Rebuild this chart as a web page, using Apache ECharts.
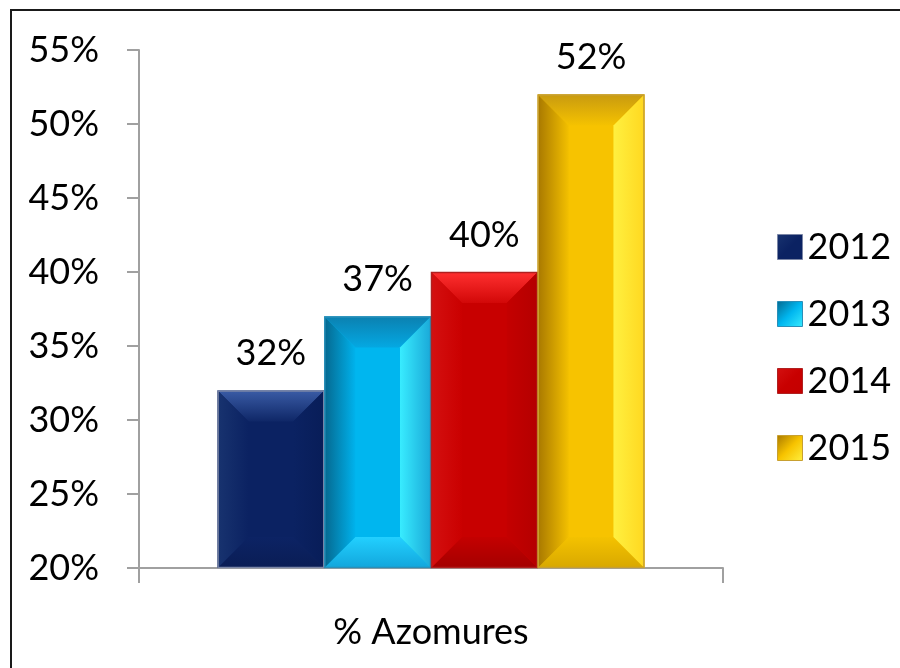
<!DOCTYPE html>
<html>
<head>
<meta charset="utf-8">
<script src="https://cdn.jsdelivr.net/npm/echarts@6/dist/echarts.min.js"></script>
<style>
html,body{margin:0;padding:0;background:#fff;}
#chart{width:900px;height:668px;}
</style>
</head>
<body>
<div id="chart"></div>
<script>
const categories = ['% Azomures'];
const years = ['2012', '2013', '2014', '2015'];
const values2012 = [32];
const values2013 = [37];
const values2014 = [40];
const values2015 = [52];
const seriesValues = [values2012, values2013, values2014, values2015];

const palettes = [
  {front:'#0b2262', topOuter:'#3a5ca6', topInner:'#0f2767', botOuter:'#0a1d55', botInner:'#0c2364', leftOuter:'#18336f', leftInner:'#0b2262', rightOuter:'#081d58', rightInner:'#0b2262', stroke:'#7b86a6'},
  {front:'#00b6ef', topOuter:'#0b80b0', topInner:'#04a8e2', botOuter:'#12a6dc', botInner:'#22d0ff', leftOuter:'#05688f', leftInner:'#00b2ec', rightOuter:'#1aa8d8', rightInner:'#38ecff', stroke:'#2a8fb8'},
  {front:'#c80000', topOuter:'#ff3030', topInner:'#d20808', botOuter:'#a40000', botInner:'#c40000', leftOuter:'#d41010', leftInner:'#ca0000', rightOuter:'#b40000', rightInner:'#c40000', stroke:'#b02020'},
  {front:'#f7c300', topOuter:'#c89a10', topInner:'#f5c200', botOuter:'#d8a800', botInner:'#f4c200', leftOuter:'#a87800', leftInner:'#f3c000', rightOuter:'#ffd820', rightInner:'#fff040', stroke:'#c8a030'}
];

function grad(x, y, x2, y2, c1, c2) {
  return {type:'linear', x:x, y:y, x2:x2, y2:y2, global:true,
    colorStops:[{offset:0, color:c1}, {offset:1, color:c2}]};
}

const FONT = 'Lato, "Open Sans", sans-serif';

function renderBar(params, api) {
  const si = params.seriesIndex;
  const p = palettes[si];
  const v = api.value(1);
  const c = api.coord([api.value(0), v]);
  const base = api.coord([api.value(0), 20]);
  const band = api.size([1, 0])[0];
  const gw = band * 0.731;
  const bw = gw / 4;
  const x0 = c[0] - gw / 2 + si * bw;
  const x1 = x0 + bw;
  const y0 = c[1];
  const y1 = base[1];
  const b = Math.min(31, bw / 3.2, (y1 - y0) / 2);
  const children = [
    {type:'rect', shape:{x:x0, y:y0, width:bw, height:y1 - y0}, style:{fill:p.front}},
    {type:'polygon', shape:{points:[[x0,y0],[x1,y0],[x1-b,y0+b],[x0+b,y0+b]]}, style:{fill:grad(0,y0,0,y0+b,p.topOuter,p.topInner)}},
    {type:'polygon', shape:{points:[[x0,y1],[x1,y1],[x1-b,y1-b],[x0+b,y1-b]]}, style:{fill:grad(0,y1,0,y1-b,p.botOuter,p.botInner)}},
    {type:'polygon', shape:{points:[[x0,y0],[x0+b,y0+b],[x0+b,y1-b],[x0,y1]]}, style:{fill:grad(x0,0,x0+b,0,p.leftOuter,p.leftInner)}},
    {type:'polygon', shape:{points:[[x1,y0],[x1-b,y0+b],[x1-b,y1-b],[x1,y1]]}, style:{fill:grad(x1,0,x1-b,0,p.rightOuter,p.rightInner)}},
    {type:'rect', shape:{x:x0+0.5, y:y0+0.5, width:bw-1, height:y1-y0-1}, style:{fill:'none', stroke:p.stroke, lineWidth:1.5}},
    {type:'text', style:{text: v + '%', x:(x0 + x1) / 2, y:y0 - 19, align:'center', verticalAlign:'bottom', font:'36px ' + FONT, fill:'#000'}}
  ];
  return {type:'group', children: children};
}

const series = years.map(function (y, i) {
  return {
    name: y,
    type: 'custom',
    renderItem: renderBar,
    encode: {x: 0, y: 1},
    data: seriesValues[i].map(function (v, ci) { return [ci, v]; }),
    itemStyle: {color: palettes[i].front},
    clip: false
  };
});

const chart = echarts.init(document.getElementById('chart'), null, {renderer: 'canvas'});
chart.setOption({
  backgroundColor: '#fff',
  animation: false,
  textStyle: {fontFamily: FONT},
  graphic: [{
    type: 'polyline', shape: {points: [[11, 700], [11, 10], [960, 10]]},
    style: {fill: 'none', stroke: '#1a1a1a', lineWidth: 2}, silent: true, z: 100
  }],
  grid: {left: 139, right: 177, top: 50, bottom: 100, containLabel: false},
  legend: {
    orient: 'vertical',
    left: 772,
    top: 224,
    itemWidth: 25,
    itemHeight: 25,
    itemGap: 31,
    icon: 'rect',
    textStyle: {fontSize: 36, color: '#000', fontFamily: FONT, lineHeight: 36, padding: [0, 0, 0, 0]},
    data: years.map(function (y, i) {
      const p = palettes[i];
      return {name: y, icon: 'rect', itemStyle: {color: {type:'linear', x:0, y:0, x2:1, y2:1, colorStops:[{offset:0, color:p.leftOuter},{offset:0.5, color:p.front},{offset:1, color:p.rightInner}]}, borderColor: p.stroke, borderWidth: 1}};
    })
  },
  xAxis: {
    type: 'category',
    data: categories,
    boundaryGap: true,
    axisLine: {show: true, lineStyle: {color: '#a0a0a0', width: 2}},
    axisTick: {show: true, length: 15, lineStyle: {color: '#a0a0a0', width: 2}},
    axisLabel: {fontSize: 36, color: '#000', margin: 46, fontFamily: FONT}
  },
  yAxis: {
    type: 'value',
    min: 20,
    max: 55,
    interval: 5,
    axisLine: {show: true, lineStyle: {color: '#a0a0a0', width: 2}},
    axisTick: {show: true, length: 12, lineStyle: {color: '#a0a0a0', width: 2}},
    splitLine: {show: false},
    axisLabel: {fontSize: 36, color: '#000', margin: 40, formatter: '{value}%', fontFamily: FONT}
  },
  series: series
});
</script>
</body>
</html>
